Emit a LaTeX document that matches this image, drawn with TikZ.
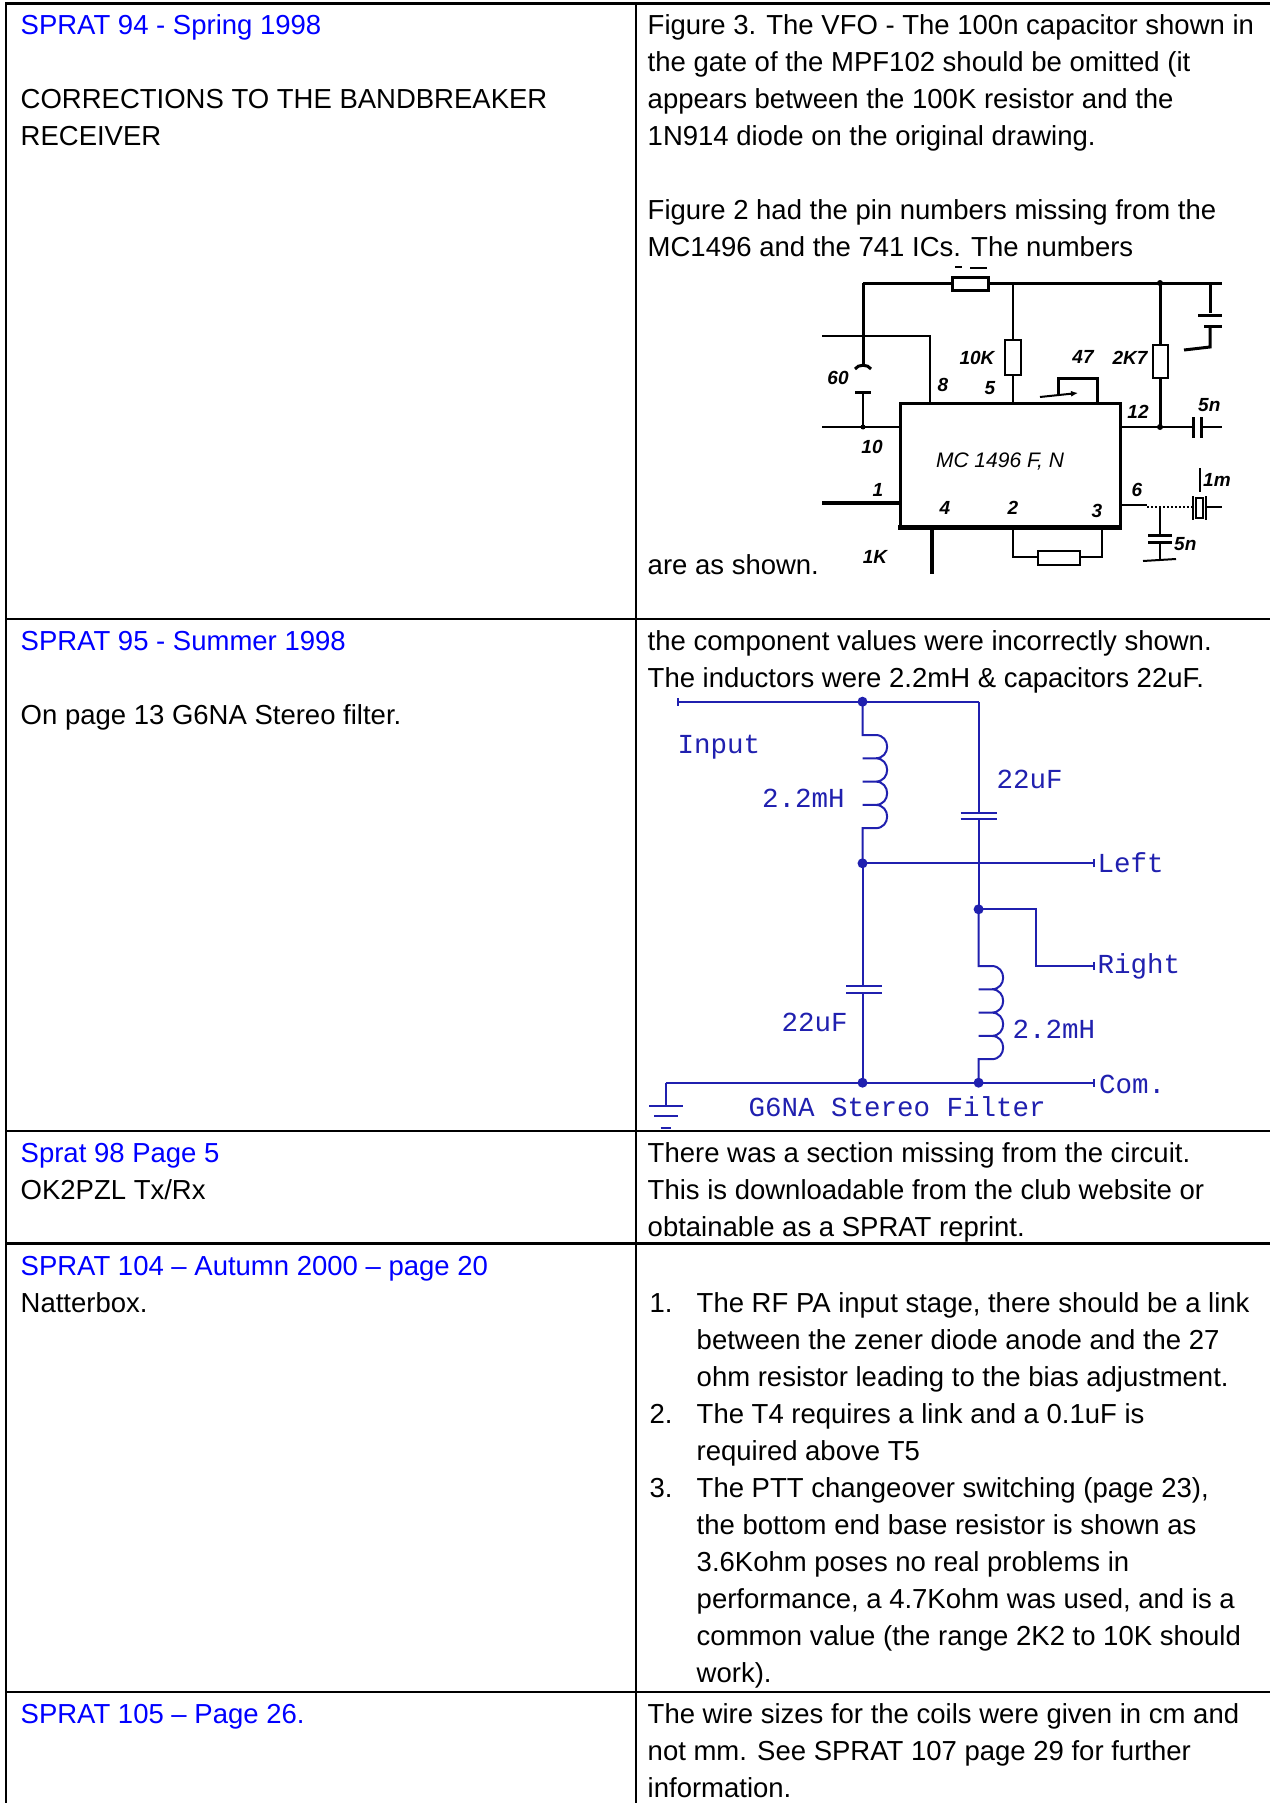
\documentclass[tikz,border=0pt]{standalone}
\usepackage{fontspec}
\usetikzlibrary{arrows.meta}
\setmainfont{Liberation Sans}
\newfontfamily\monof{Liberation Mono}
\definecolor{hblue}{RGB}{0,0,255}
\definecolor{sch}{RGB}{32,32,175}
\newcommand\txtlines[5]{%
  \foreach \t [count=\i from 0] in {#5} {\node[#4] (#1-\i) at (#2,{#3+37*\i}) {\t};}}
\begin{document}
\begin{tikzpicture}[x=1pt,y=-1pt,
  txt/.style={inner sep=0pt, anchor=base west, font=\fontsize{27.5}{33}\selectfont},
  head/.style={txt, text=hblue},
  grid/.style={line width=2.5pt, black},
  wire/.style={sch, line width=2pt},
  mono/.style={inner sep=0pt, anchor=base west, text=sch, font=\monof\fontsize{27.5}{30}\selectfont},
  dotn/.style={circle, fill=sch, inner sep=0pt, minimum size=10pt},
  scan/.style={black, line width=3pt},
  scanthin/.style={black, line width=2pt},
  pinl/.style={inner sep=0pt, font=\fontsize{19}{19}\selectfont\bfseries\itshape},
  ]
\useasboundingbox (0,0) rectangle (1270,1803);
\fill[white] (0,0) rectangle (1270,1803);
% ---------- table grid ----------
\draw[black, line width=3pt] (5,4) -- (1270,4);
\draw[grid] (6,4) -- (6,1803);
\draw[grid] (636,4) -- (636,1803);
\foreach \yy in {619,1131,1243.5,1692} {\draw[grid] (6,\yy) -- (1270,\yy);}
% ---------- row 1 ----------
\node[head] (h1) at (20.5,35) {SPRAT 94 - Spring 1998};
\txtlines{l1}{20.5}{109}{txt}{{CORRECTIONS TO THE BANDBREAKER},{RECEIVER}}
\txtlines{r1}{647.5}{35}{txt}{{Figure 3. The VFO - The 100n capacitor shown in},{the gate of the MPF102 should be omitted (it},{appears between the 100K resistor and the},{1N914 diode on the original drawing.}}
\txtlines{r1b}{647.5}{220}{txt}{{Figure 2 had the pin numbers missing from the},{MC1496 and the 741 ICs. The numbers}}
\node[txt] (r1c) at (647.5,574) {are as shown.};
% ---------- MC1496 scan ----------
\draw[scan] (863,283) -- (952,283);
\draw[scan] (988,283) -- (1222,283);
\draw[scan, fill=white] (952,277) rectangle (988,290);
\draw[scanthin] (955,267) -- (962,267) (970,268) -- (987,268);
% left vertical with 60p cap
\draw[scan] (863,283) -- (863,366);
\draw[scan] (855,369) .. controls (858,364) and (868,364) .. (871,369);
\draw[scan] (855,392) -- (871,392);
\draw[scanthin] (863,392) -- (863,427);
\node[pinl] (c60) at (838,378) {60};
% pin 8 and pin 10 / pin 1 inputs
\draw[scanthin] (822,336) -- (930,336) -- (930,403);
\draw[scanthin] (822,427) -- (900,427);
\fill (863,427) circle (2.5pt);
\draw[black, line width=4pt] (822,503) -- (900,503);
% IC box
\draw[scan] (900,527) -- (900,403) -- (1120,403) -- (1120,527);
\draw[black, line width=5pt] (898,527) -- (1122,527);
\node[inner sep=0pt, font=\fontsize{21}{21}\selectfont\itshape] (ic) at (1000,462) {MC 1496 F, N};
% 10K resistor
\draw[scanthin] (1013,283) -- (1013,340);
\draw[scanthin, fill=white] (1005,340) rectangle (1021,375);
\draw[scanthin] (1013,375) -- (1013,403);
\node[pinl] (r10k) at (977,358) {10K};
% pot 47
\draw[scan] (1097,403) -- (1097,378) -- (1058,378) -- (1058,395);
\draw[scanthin, -{Latex[length=7pt,width=6pt]}] (1040,397) -- (1078,393);
\node[pinl] (p47) at (1083,357) {47};
% 2K7 resistor
\draw[scan] (1160,283) -- (1160,345);
\draw[scanthin, fill=white] (1153,345) rectangle (1168,378);
\draw[scan] (1160,378) -- (1160,427);
\fill (1160,283) circle (3pt) (1160,427) circle (3pt);
\node[pinl] (r2k7) at (1130,358) {2K7};
% pin 12 with 5n cap
\draw[scanthin] (1120,427) -- (1192,427);
\draw[scan] (1193,417) -- (1193,438) (1201,417) -- (1201,438);
\draw[scanthin] (1201,427) -- (1222,427);
\node[pinl, anchor=west] (c5a) at (1198,405) {5n};
% top right cap
\draw[scan] (1210,283) -- (1210,313);
\draw[scan] (1198,315) -- (1222,315);
\draw[scan] (1204,326) -- (1222,326);
\draw[scan] (1210,326) -- (1210,347) -- (1184,350);
% pin 6 with crystal
\draw[scanthin] (1120,505) -- (1147,505);
\draw[scanthin, dotted] (1147,507) -- (1192,507);
\draw[scanthin] (1193,496) -- (1193,520) (1206,496) -- (1206,520);
\draw[scanthin, fill=white] (1196,498) rectangle (1203,518);
\draw[scanthin] (1206,507) -- (1222,507);
\draw[scanthin] (1200,468) -- (1200,492);
\node[pinl, anchor=west] (x1m) at (1203,480) {1m};
% 5n to ground
\draw[scanthin] (1160,508) -- (1160,535);
\draw[scan] (1148,535) -- (1172,535) (1148,542) -- (1172,542);
\draw[scanthin] (1160,542) -- (1160,560);
\draw[scanthin] (1143,561) -- (1176,559);
\node[pinl, anchor=west] (c5b) at (1174,544) {5n};
% pin 4 down, 1K
\draw[black, line width=4pt] (932,527) -- (932,574);
\node[pinl] (r1k) at (875,557) {1K};
% resistor loop pins 2-3
\draw[scanthin] (1013,527) -- (1013,557) -- (1038,557);
\draw[scanthin, fill=white] (1038,551) rectangle (1080,565);
\draw[scanthin] (1080,557) -- (1102,557) -- (1102,527);
% pin numbers
\node[pinl] (p8) at (943,385) {8};
\node[pinl] (p5) at (990,388) {5};
\node[pinl] (p10) at (872,447) {10};
\node[pinl] (p1) at (878,490) {1};
\node[pinl] (p4) at (945,508) {4};
\node[pinl] (p2) at (1013,508) {2};
\node[pinl] (p3) at (1097,511) {3};
\node[pinl] (p12) at (1138,412) {12};
\node[pinl] (p6) at (1137,490) {6};
% ---------- row 2 ----------
\node[head] (h2) at (20.5,650.5) {SPRAT 95 - Summer 1998};
\node[txt] (l2) at (20.5,724.5) {On page 13 G6NA Stereo filter.};
\txtlines{r2}{647.5}{650.5}{txt}{{the component values were incorrectly shown.},{The inductors were 2.2mH \& capacitors 22uF.}}
% ---------- G6NA filter ----------
\coordinate (tin) at (677.5,701.7);
\node[dotn] (d1) at (862.5,701.7) {};
\coordinate (tr) at (978.6,701.7);
\node[dotn] (d2) at (862.5,863.3) {};
\node[dotn] (d3) at (978.6,909.3) {};
\node[dotn] (d4) at (862.5,1082.7) {};
\node[dotn] (d5) at (978.6,1082.7) {};
\coordinate (oL) at (1093.6,863.3);
\coordinate (oR) at (1093.6,966);
\coordinate (oC) at (1093.6,1082.7);
\coordinate (gnd) at (665.7,1082.7);
\draw[wire] (tin) -- (d1.center) -- (tr);
\draw[wire] ([yshift=-4pt]tin) -- ([yshift=4pt]tin);
% left coil
\draw[wire] (d1.center) -- (862.5,735)
  foreach \k in {0,1,2,3} { -- (875.5,{735+23.3*\k}) .. controls (891,{735+23.3*\k}) and (891,{758.3+23.3*\k}) .. (875.5,{758.3+23.3*\k}) -- (862.5,{758.3+23.3*\k}) }
  -- (d2.center);
% left cap
\draw[wire] (d2.center) -- (862.5,986);
\draw[wire] (846.4,986) -- (882,986) (846.4,993.3) -- (882,993.3);
\draw[wire] (862.5,993.3) -- (d4.center);
% right cap
\draw[wire] (tr) -- (978.6,813.3);
\draw[wire] (960.7,813.3) -- (997.1,813.3) (960.7,819.3) -- (997.1,819.3);
\draw[wire] (978.6,819.3) -- (d3.center);
% right coil
\draw[wire] (d3.center) -- (978.6,966)
  foreach \k in {0,1,2,3} { -- (991.6,{966+23.3*\k}) .. controls (1007,{966+23.3*\k}) and (1007,{989.3+23.3*\k}) .. (991.6,{989.3+23.3*\k}) -- (978.6,{989.3+23.3*\k}) }
  -- (d5.center);
% outputs
\draw[wire] (d2.center) -- (oL);
\draw[wire] (d3.center) -- (1035.7,909.3) -- (1035.7,966) -- (oR);
\draw[wire] (gnd) -- (d4.center) -- (d5.center) -- (oC);
\foreach \c in {oL,oR,oC} {\draw[wire] ([yshift=-4pt]\c) -- ([yshift=4pt]\c);}
% ground
\draw[wire] (gnd) -- (665.7,1105.7);
\draw[wire] (649,1105.7) -- (683,1105.7) (654,1116) -- (677.5,1116) (660.7,1127.5) -- (671.4,1127.5);
% labels
\node[mono] (lin) at (677.5,753.3) {Input};
\node[mono] (lL1) at (762,807.7) {2.2mH};
\node[mono] (lC1) at (996.5,788) {22uF};
\node[mono] (lleft) at (1097.5,872) {Left};
\node[mono] (lright) at (1097.5,973) {Right};
\node[mono] (lC2) at (781.5,1031) {22uF};
\node[mono] (lL2) at (1012.5,1038) {2.2mH};
\node[mono] (lcom) at (1099,1093) {Com.};
\node[mono] (ltitle) at (748.5,1116) {G6NA Stereo Filter};
% ---------- row 3 ----------
\node[head] (h3) at (20.5,1162.5) {Sprat 98 Page 5};
\node[txt] (l3) at (20.5,1199.5) {OK2PZL Tx/Rx};
\txtlines{r3}{647.5}{1162.5}{txt}{{There was a section missing from the circuit.},{This is downloadable from the club website or},{obtainable as a SPRAT reprint.}}
% ---------- row 4 ----------
\node[head] (h4) at (20.5,1275) {SPRAT 104 – Autumn 2000 – page 20};
\node[txt] (l4) at (20.5,1312) {Natterbox.};
\node[txt] (n1) at (649.5,1312) {1.};
\node[txt] (n2) at (649.5,1423) {2.};
\node[txt] (n3) at (649.5,1497) {3.};
\txtlines{r4}{696.5}{1312}{txt}{{The RF PA input stage, there should be a link},{between the zener diode anode and the 27},{ohm resistor leading to the bias adjustment.},{The T4 requires a link and a 0.1uF is},{required above T5},{The PTT changeover switching (page 23),},{the bottom end base resistor is shown as},{3.6Kohm poses no real problems in},{performance, a 4.7Kohm was used, and is a},{common value (the range 2K2 to 10K should},{work).}}
% ---------- row 5 ----------
\node[head] (h5) at (20.5,1723.5) {SPRAT 105 – Page 26.};
\txtlines{r5}{647.5}{1723.5}{txt}{{The wire sizes for the coils were given in cm and},{not mm. See SPRAT 107 page 29 for further},{information.}}
\end{tikzpicture}
\end{document}
